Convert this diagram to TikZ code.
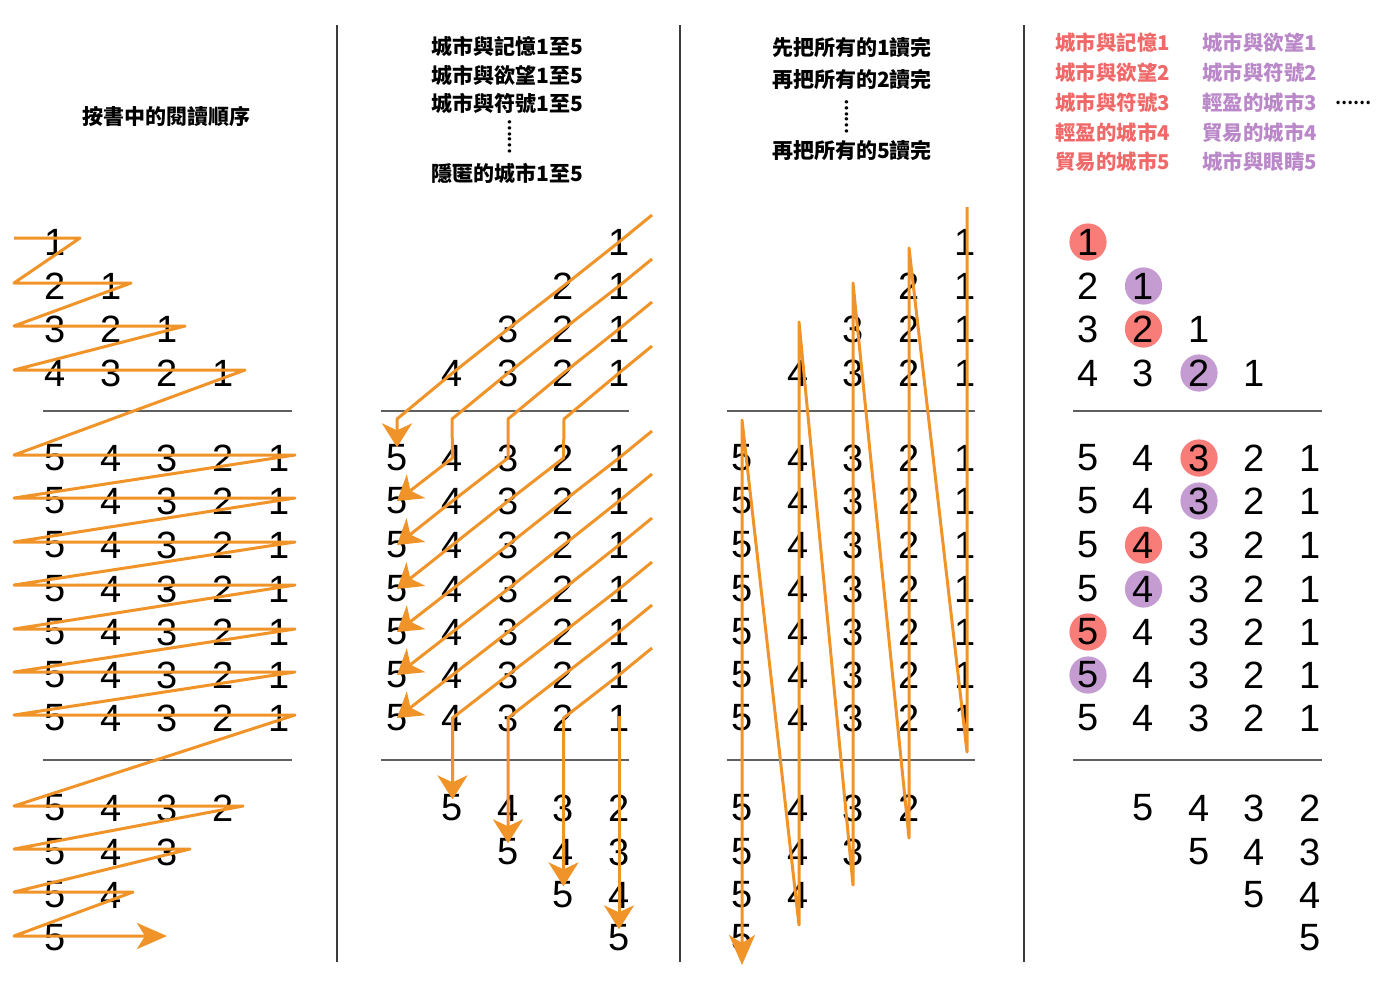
\documentclass[tikz,border=0pt]{standalone}
\usepackage{fontspec}
\setmainfont{Liberation Sans}
\newfontfamily\cjk{Noto Sans CJK TC}
\usetikzlibrary{arrows.meta,calc}
\pgfdeclarelayer{bg}
\pgfsetlayers{bg,main}
\definecolor{org}{RGB}{240,148,42}
\definecolor{redc}{RGB}{248,124,120}
\definecolor{purc}{RGB}{196,156,210}
\definecolor{redt}{RGB}{240,104,104}
\definecolor{purt}{RGB}{186,136,200}
\definecolor{sepc}{RGB}{95,95,95}
\definecolor{divc}{RGB}{60,60,60}

\newcommand\mkpanel[5]{%
  \foreach \r/\y in {1/242,2/286,3/329,4/373}{%
    \foreach \d in {1,...,\r}{%
      \ifnum#4=1\relax
        \pgfmathsetmacro\xx{#2+#3*(\r-\d)}%
      \else
        \pgfmathsetmacro\xx{#2+#3*(5-\d)}%
      \fi
      \node[dig] (#1-\r-\d) at (\xx,\y) {\d};
    }%
  }%
  \foreach \r/\y in {5/458,6/501,7/545,8/589,9/632,10/675,11/718}{%
    \foreach \d in {1,...,5}{%
      \pgfmathsetmacro\xx{#2+#3*(5-\d)}%
      \node[dig] (#1-\r-\d) at (\xx,\y) {\d};
    }%
  }%
  \foreach \r/\y in {12/808,13/852,14/895,15/938}{%
    \pgfmathtruncatemacro\lo{\r-10}%
    \foreach \d in {\lo,...,5}{%
      \ifnum#5=1\relax
        \pgfmathsetmacro\xx{#2+#3*(5-\d)}%
      \else
        \pgfmathsetmacro\xx{#2+#3*(5-\d)+#3*(\r-11)}%
      \fi
      \node[dig] (#1-\r-\d) at (\xx,\y) {\d};
    }%
  }%
}

\begin{document}
\begin{tikzpicture}[x=0.5pt,y=-0.5pt,
  dig/.style={inner sep=0pt, font=\fontsize{19}{19}\selectfont},
  hd/.style={inner sep=0pt, font=\cjk\bfseries\fontsize{10.5}{12}\selectfont},
  hdr/.style={inner sep=0pt, anchor=west, text=redt, font=\cjk\bfseries\fontsize{10.2}{12}\selectfont},
  hdp/.style={inner sep=0pt, anchor=west, text=purt, font=\cjk\bfseries\fontsize{10.2}{12}\selectfont},
  vdots/.style={inner sep=0pt, rotate=90, font=\cjk\bfseries\fontsize{8}{8}\selectfont},
  ol/.style={draw=org, line width=1.5pt, line join=round},
  tipS/.style={-{Stealth[length=12pt,width=15pt,inset=3.5pt]}},
  tipL/.style={-{Stealth[length=15pt,width=13pt,inset=4pt]}},
  sep/.style={draw=sepc, line width=0.6pt},
  divl/.style={draw=divc, line width=0.8pt},
  rc/.style={fill=redc},
  pc/.style={fill=purc}]
\useasboundingbox (0,0) rectangle (1400,993);
\begin{pgfonlayer}{bg}
\fill[white] (0,0) rectangle (1400,993);
\end{pgfonlayer}

% dividers
\coordinate (v1t) at (337,25); \coordinate (v1b) at (337,962);
\coordinate (v2t) at (680,25); \coordinate (v2b) at (680,962);
\coordinate (v3t) at (1024,25); \coordinate (v3b) at (1024,962);
\draw[divl] (v1t) -- (v1b);
\draw[divl] (v2t) -- (v2b);
\draw[divl] (v3t) -- (v3b);

% separators
\foreach \a/\b [count=\i] in {43/292,381/629,727/975,1073/1322}{
  \coordinate (su\i a) at (\a,411); \coordinate (su\i b) at (\b,411);
  \coordinate (sl\i a) at (\a,760); \coordinate (sl\i b) at (\b,760);
  \draw[sep] (su\i a) -- (su\i b);
  \draw[sep] (sl\i a) -- (sl\i b);
}

% headers
\node[hd] (h1) at (166,116) {按書中的閱讀順序};
\node[hd] (h2a) at (507,46) {城市與記憶1至5};
\node[hd] (h2b) at (507,75) {城市與欲望1至5};
\node[hd] (h2c) at (507,103) {城市與符號1至5};
\node[vdots] (h2d) at (510,137) {……};
\node[hd] (h2e) at (507,173) {隱匿的城市1至5};
\node[hd] (h3a) at (852,47) {先把所有的1讀完};
\node[hd] (h3b) at (852,79) {再把所有的2讀完};
\node[vdots] (h3c) at (847,117) {……};
\node[hd] (h3d) at (852,150) {再把所有的5讀完};

\node[hdr] (r1) at (1055,43) {城市與記憶1};
\node[hdr] (r2) at (1055,73) {城市與欲望2};
\node[hdr] (r3) at (1055,103) {城市與符號3};
\node[hdr] (r4) at (1055,133) {輕盈的城市4};
\node[hdr] (r5) at (1055,162) {貿易的城市5};
\node[hdp] (p1) at (1202,43) {城市與欲望1};
\node[hdp] (p2) at (1202,73) {城市與符號2};
\node[hdp] (p3) at (1202,103) {輕盈的城市3};
\node[hdp] (p4) at (1202,133) {貿易的城市4};
\node[hdp] (p5) at (1202,162) {城市與眼睛5};
\node[inner sep=0pt, font=\cjk\bfseries\fontsize{8}{8}\selectfont] (ell) at (1353,103) {……};

% digits
\mkpanel{A}{55}{56}{1}{1}
\mkpanel{B}{397}{55.5}{0}{0}
\mkpanel{C}{742}{55.75}{0}{1}
\mkpanel{D}{1088}{55.5}{1}{0}

% circles in panel 4
\begin{pgfonlayer}{bg}
\foreach \n in {D-1-1,D-3-2,D-5-3,D-7-4,D-9-5}
  \fill[rc] (\n.center) circle[radius=9.3pt];
\foreach \n in {D-2-1,D-4-2,D-6-3,D-8-4,D-10-5}
  \fill[pc] (\n.center) circle[radius=9.3pt];
\end{pgfonlayer}

% panel 1 zigzag
\draw[ol,tipL] (14,238) -- (80,238) -- (14,283) -- (131,283) -- (14,326) -- (185,326)
  -- (14,370) -- (245,370) -- (14,455) -- (295,455) -- (14,498) -- (295,498)
  -- (14,542) -- (295,542) -- (14,585) -- (295,585) -- (14,629) -- (295,629)
  -- (14,672) -- (295,672) -- (14,715) -- (295,715) -- (14,806) -- (243,806)
  -- (14,849) -- (190,849) -- (14,892) -- (133,892) -- (14,936) -- (167,936);

% panel 2 lines
\coordinate (tA) at (397,419);
\coordinate (tB) at (452,419);
\coordinate (tC) at (508,419);
\coordinate (tD) at (564,419);
\foreach \r in {1,...,10} \coordinate (s\r) at ($(B-\r-1.center)+(33,-27)$);
\draw[ol,tipS] (s1) -- (B-1-1.center) -- (B-2-2.center) -- (B-3-3.center) -- (B-4-4.center) -- (tA) -- ([yshift=-1.5pt]B-5-5.north);
\draw[ol,tipS] (s2) -- (B-2-1.center) -- (B-3-2.center) -- (B-4-3.center) -- (tB) -- (B-5-4.center) -- (B-6-5.center);
\draw[ol,tipS] (s3) -- (B-3-1.center) -- (B-4-2.center) -- (tC) -- (B-5-3.center) -- (B-6-4.center) -- (B-7-5.center);
\draw[ol,tipS] (s4) -- (B-4-1.center) -- (tD) -- (B-5-2.center) -- (B-6-3.center) -- (B-7-4.center) -- (B-8-5.center);
\draw[ol,tipS] (s5) -- (B-5-1.center) -- (B-6-2.center) -- (B-7-3.center) -- (B-8-4.center) -- (B-9-5.center);
\draw[ol,tipS] (s6) -- (B-6-1.center) -- (B-7-2.center) -- (B-8-3.center) -- (B-9-4.center) -- (B-10-5.center);
\draw[ol,tipS] (s7) -- (B-7-1.center) -- (B-8-2.center) -- (B-9-3.center) -- (B-10-4.center) -- (B-11-5.center);
\draw[ol,tipS] (s8) -- (B-8-1.center) -- (B-9-2.center) -- (B-10-3.center) -- (B-11-4.center) -- ([yshift=-2.5pt]B-12-5.north);
\draw[ol,tipS] (s9) -- (B-9-1.center) -- (B-10-2.center) -- (B-11-3.center) -- ([yshift=-2.5pt]B-13-5.north);
\draw[ol,tipS] (s10) -- (B-10-1.center) -- (B-11-2.center) -- ([yshift=-2.5pt]B-14-5.north);
\draw[ol,tipS] ([yshift=1pt]B-11-1.center) -- ([yshift=-2.5pt]B-15-5.north);

% panel 3 zigzag
\coordinate (c1t) at (967,207); \coordinate (c1b) at (967,752);
\coordinate (c2t) at (909,248); \coordinate (c2b) at (909,838);
\coordinate (c3t) at (853,283); \coordinate (c3b) at (853,885);
\coordinate (c4t) at (799,322); \coordinate (c4b) at (799,925);
\coordinate (c5t) at (742,420); \coordinate (c5b) at (742,965);
\draw[ol,tipL] (c1t) -- (c1b) -- (c2t) -- (c2b) -- (c3t) -- (c3b) -- (c4t) -- (c4b) -- (c5t) -- (c5b);
\end{tikzpicture}
\end{document}
